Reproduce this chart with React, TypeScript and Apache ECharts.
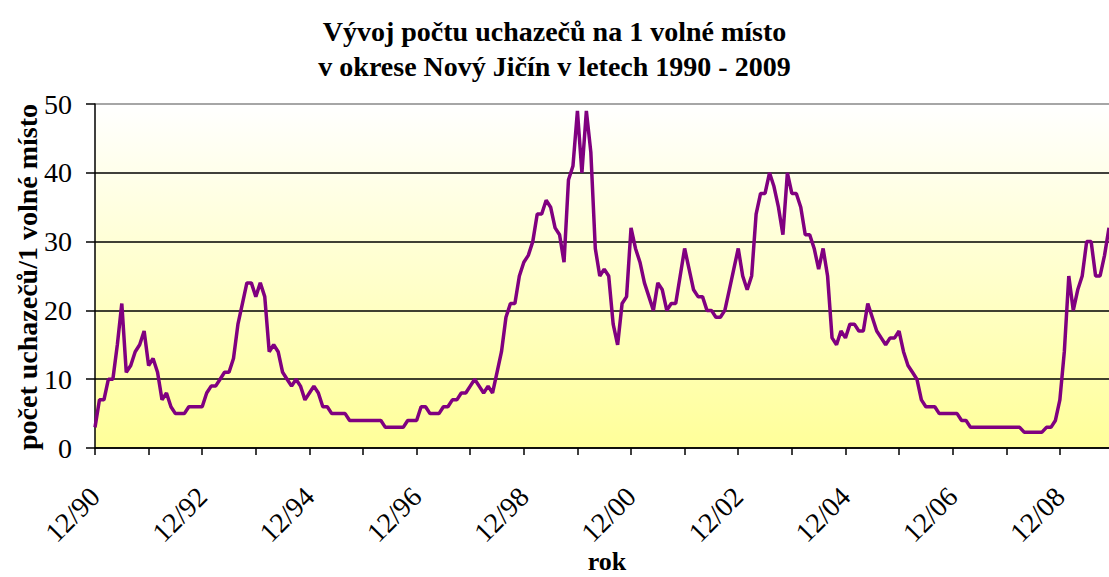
import React, { useEffect, useRef } from "react";
import * as echarts from "echarts";

const START_YEAR = 1990;
const START_MONTH = 12;

const values: number[] = [
  3, 7, 7, 10, 10, 15, 21, 11, 12, 14,
  15, 17, 12, 13, 11, 7, 8, 6, 5, 5,
  5, 6, 6, 6, 6, 8, 9, 9, 10, 11,
  11, 13, 18, 21, 24, 24, 22, 24, 22, 14,
  15, 14, 11, 10, 9, 10, 9, 7, 8, 9,
  8, 6, 6, 5, 5, 5, 5, 4, 4, 4,
  4, 4, 4, 4, 4, 3, 3, 3, 3, 3,
  4, 4, 4, 6, 6, 5, 5, 5, 6, 6,
  7, 7, 8, 8, 9, 10, 9, 8, 9, 8,
  11, 14, 19, 21, 21, 25, 27, 28, 30, 34,
  34, 36, 35, 32, 31, 27, 39, 41, 49, 40,
  49, 43, 29, 25, 26, 25, 18, 15, 21, 22,
  32, 29, 27, 24, 22, 20, 24, 23, 20, 21,
  21, 25, 29, 26, 23, 22, 22, 20, 20, 19,
  19, 20, 23, 26, 29, 25, 23, 25, 34, 37,
  37, 40, 38, 35, 31, 40, 37, 37, 35, 31,
  31, 29, 26, 29, 25, 16, 15, 17, 16, 18,
  18, 17, 17, 21, 19, 17, 16, 15, 16, 16,
  17, 14, 12, 11, 10, 7, 6, 6, 6, 5,
  5, 5, 5, 5, 4, 4, 3, 3, 3, 3,
  3, 3, 3, 3, 3, 3, 3, 3, 2.3, 2.3,
  2.3, 2.3, 2.3, 3, 3, 4, 7, 14, 25, 20,
  23, 25, 30, 30, 25, 25, 28, 32,
];

const categories: string[] = values.map((_, i) => {
  const k = START_MONTH - 1 + i;
  const m = (k % 12) + 1;
  const y = (START_YEAR + Math.floor(k / 12)) % 100;
  return `${String(m).padStart(2, "0")}/${String(y).padStart(2, "0")}`;
});

const TITLE_LINES = [
  "Vývoj počtu uchazečů na 1 volné místo",
  "v okrese Nový Jičín v letech 1990 - 2009",
];
const Y_NAME = "počet uchazečů/1 volné místo";
const X_NAME = "rok";

const SERIF = "'Liberation Serif', 'Times New Roman', serif";

export default function App() {
  const ref = useRef<HTMLDivElement>(null);
  useEffect(() => {
    if (!ref.current) return;
    const chart = echarts.init(ref.current, undefined, { renderer: "svg" });
    chart.setOption({
      animation: false,
      backgroundColor: "#ffffff",
      title: {
        text: TITLE_LINES.join("\n"),
        left: "center",
        top: 9,
        textStyle: {
          fontFamily: SERIF,
          fontWeight: "bold",
          fontSize: 28,
          lineHeight: 35,
          color: "#000",
        },
      },
      grid: {
        left: 95,
        right: 0,
        top: 104,
        bottom: 129,
        outerBoundsMode: "none",
        containLabel: false,
        show: true,
        borderWidth: 0,
        backgroundColor: new echarts.graphic.LinearGradient(0, 0, 0, 1, [
          { offset: 0, color: "#ffffff" },
          { offset: 1, color: "#ffff99" },
        ]),
      },
      xAxis: {
        type: "category",
        data: categories,
        boundaryGap: false,
        axisLine: { show: true, lineStyle: { color: "#000", width: 1.5 } },
        axisTick: {
          show: true,
          interval: 11,
          length: 7,
          lineStyle: { color: "#000", width: 1.5 },
        },
        axisLabel: {
          interval: 23,
          rotate: 45,
          margin: 44,
          fontFamily: SERIF,
          fontSize: 28,
          color: "#000",
        },
        splitLine: { show: false },
      },
      yAxis: {
        type: "value",
        min: 0,
        max: 50,
        interval: 10,
        axisLine: { show: true, lineStyle: { color: "#000", width: 1.5 } },
        axisTick: {
          show: true,
          length: 9,
          lineStyle: { color: "#000", width: 1.5 },
        },
        axisLabel: {
          margin: 23,
          fontFamily: SERIF,
          fontSize: 28,
          color: "#000",
        },
        splitLine: {
          show: true,
          lineStyle: {
            color: ["#000", "#000", "#000", "#000", "#000", "#888"],
            width: 1.5,
          },
        },
      },
      graphic: [
        {
          type: "text",
          x: 27,
          y: 277,
          rotation: Math.PI / 2,
          style: {
            text: Y_NAME,
            fontFamily: SERIF,
            fontWeight: "bold",
            fontSize: 28,
            fill: "#000",
            align: "center",
            verticalAlign: "middle",
          },
        },
        {
          type: "text",
          x: 607,
          y: 574,
          style: {
            text: X_NAME,
            fontFamily: SERIF,
            fontWeight: "bold",
            fontSize: 26,
            fill: "#000",
            align: "center",
            verticalAlign: "bottom",
          },
        },
      ],
      series: [
        {
          type: "line",
          data: values,
          showSymbol: false,
          lineStyle: { color: "#800080", width: 3.5 },
          itemStyle: { color: "#800080" },
        },
      ],
    });
    return () => chart.dispose();
  }, []);
  return (
    <div
      ref={ref}
      style={{ position: "fixed", left: 0, top: 0, width: 1109, height: 577 }}
    />
  );
}
